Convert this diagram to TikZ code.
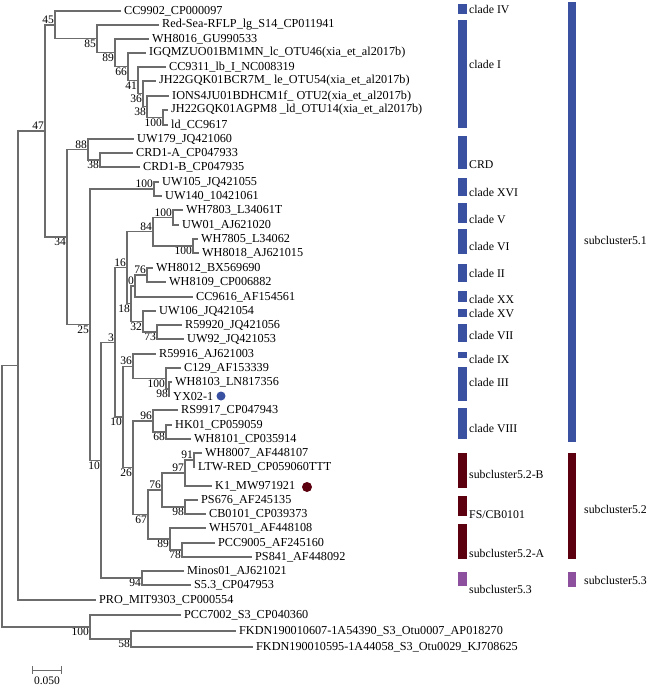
\documentclass[tikz,border=0pt]{standalone}
\usepackage{fontspec}
\setmainfont{Liberation Serif}
\definecolor{cladeblue}{RGB}{58,80,160}
\definecolor{cladered}{RGB}{92,0,16}
\definecolor{cladeviolet}{RGB}{140,80,158}
\tikzset{branch/.style={draw=gray!85!black, line width=1.1pt},
  leaf/.style={anchor=west, inner sep=3pt, font=\fontsize{12.2}{13}\selectfont},
  inode/.style={inner sep=0pt, outer sep=0pt, minimum size=0pt},
  boot/.style={inner sep=1pt, font=\fontsize{11.5}{12}\selectfont},
  cladetext/.style={anchor=west, inner sep=1pt, font=\fontsize{11.8}{13}\selectfont}}

\begin{document}
\begin{tikzpicture}[x=1pt, y=-1pt, label distance=0pt]
\useasboundingbox[fill=white] (0,0) rectangle (650,689);

% leaves
\node[leaf] (t01) at (121,11) {CC9902\_CP000097};
\node[leaf] (t02) at (159,25) {Red-Sea-RFLP\_lg\_S14\_CP011941};
\node[leaf] (t03) at (149,39) {WH8016\_GU990533};
\node[leaf] (t04) at (146,53) {IGQMZUO01BM1MN\_lc\_OTU46(xia\_et\_al2017b)};
\node[leaf] (t05) at (166,67) {CC9311\_lb\_I\_NC008319};
\node[leaf] (t06) at (156,81) {JH22GQK01BCR7M\_ le\_OTU54(xia\_et\_al2017b)};
\node[leaf] (t07) at (169,96) {IONS4JU01BDHCM1f\_ OTU2(xia\_et\_al2017b)};
\node[leaf] (t08) at (168,110) {JH22GQK01AGPM8 \_ld\_OTU14(xia\_et\_al2017b)};
\node[leaf] (t09) at (168,125) {ld\_CC9617};
\node[leaf] (t10) at (134,139) {UW179\_JQ421060};
\node[leaf] (t11) at (133,153) {CRD1-A\_CP047933};
\node[leaf] (t12) at (140,167) {CRD1-B\_CP047935};
\node[leaf] (t13) at (159,182) {UW105\_JQ421055};
\node[leaf] (t14) at (162,196) {UW140\_10421061};
\node[leaf] (t15) at (183,210) {WH7803\_L34061T};
\node[leaf] (t16) at (179,225) {UW01\_AJ621020};
\node[leaf] (t17) at (198,239) {WH7805\_L34062};
\node[leaf] (t18) at (199,253) {WH8018\_AJ621015};
\node[leaf] (t19) at (153,268) {WH8012\_BX569690};
\node[leaf] (t20) at (166,282) {WH8109\_CP006882};
\node[leaf] (t21) at (193,297) {CC9616\_AF154561};
\node[leaf] (t22) at (156,311) {UW106\_JQ421054};
\node[leaf] (t23) at (182,325) {R59920\_JQ421056};
\node[leaf] (t24) at (184,339) {UW92\_JQ421053};
\node[leaf] (t25) at (156,354) {R59916\_AJ621003};
\node[leaf] (t26) at (181,368) {C129\_AF153339};
\node[leaf] (t27) at (172,382) {WH8103\_LN817356};
\node[leaf] (t28) at (170,396) {YX02-1};
\node[leaf] (t29) at (178,410) {RS9917\_CP047943};
\node[leaf] (t30) at (172,425) {HK01\_CP059059};
\node[leaf] (t31) at (191,439) {WH8101\_CP035914};
\node[leaf] (t32) at (202,453) {WH8007\_AF448107};
\node[leaf] (t33) at (195,467) {LTW-RED\_CP059060TTT};
\node[leaf] (t34) at (212,486) {K1\_MW971921};
\node[leaf] (t35) at (198,500) {PS676\_AF245135};
\node[leaf] (t36) at (206,514) {CB0101\_CP039373};
\node[leaf] (t37) at (206,528) {WH5701\_AF448108};
\node[leaf] (t38) at (215,543) {PCC9005\_AF245160};
\node[leaf] (t39) at (252,557) {PS841\_AF448092};
\node[leaf] (t40) at (184,571) {Minos01\_AJ621021};
\node[leaf] (t41) at (191,585) {S5.3\_CP047953};
\node[leaf] (t42) at (96,600) {PRO\_MIT9303\_CP000554};
\node[leaf] (t43) at (181,615) {PCC7002\_S3\_CP040360};
\node[leaf] (t44) at (236,631) {FKDN190010607-1A54390\_S3\_Otu0007\_AP018270};
\node[leaf] (t45) at (253,647) {FKDN190010595-1A44058\_S3\_Otu0029\_KJ708625};

\node[circle, fill=cladeblue, inner sep=0pt, minimum size=9pt] (dotYX) at (221,396) {};
\node[circle, fill=cladered, inner sep=0pt, minimum size=10pt] (dotK) at (307,487) {};

% inner nodes
\node[inode] (root) at (2,496) {};
\node[inode] (x1) at (18,365.5) {};
\node[inode, label={[boot]above left:47}] (n47) at (45,131) {};
\node[inode, label={[boot]above left:45}] (n45) at (55,25) {};
\node[inode, label={[boot]below left:85}] (n85) at (97,38.9) {};
\node[inode, label={[boot]below left:89}] (n89) at (115,52.9) {};
\node[inode, label={[boot]below left:66}] (n66) at (128,66.7) {};
\node[inode, label={[boot]below left:41}] (n41) at (138,80.4) {};
\node[inode, label={[boot]below left:36}] (n36a) at (143,93.9) {};
\node[inode, label={[boot]below left:38}] (n38a) at (147,106.8) {};
\node[inode, label={[boot]below left:100}] (n100a) at (163,117.5) {};
\node[inode, label={[boot]below left:34}] (n34) at (67,237) {};
\node[inode, label={[boot]above left:88}] (n88) at (88,149.5) {};
\node[inode, label={[boot]below left:38}] (n38b) at (100,160) {};
\node[inode, label={[boot]below left:25}] (n25) at (90,324.6) {};
\node[inode, label={[boot]above left:100}] (n100b) at (154,189) {};
\node[inode, label={[boot]below left:10}] (n10a) at (101,460.2) {};
\node[inode, label={[boot]above left:3}] (n3) at (115,342.4) {};
\node[inode, label={[boot]above left:16}] (n16) at (127,267.8) {};
\node[inode, label={[boot]above left:84}] (n84) at (153,231.8) {};
\node[inode, label={[boot]above left:100}] (n100c) at (173,217.5) {};
\node[inode, label={[boot]below left:100}] (n100d) at (193,246) {};
\node[inode, label={[boot]below left:18}] (n18) at (131,303.8) {};
\node[inode, label={[boot]above left:0}] (n0) at (135,286) {};
\node[inode, label={[boot]above left:76}] (n76a) at (147,275) {};
\node[inode, label={[boot]below left:32}] (n32) at (143,321.5) {};
\node[inode, label={[boot]below left:73}] (n73) at (157,332) {};
\node[inode, label={[boot]below left:10}] (n10b) at (123,417) {};
\node[inode, label={[boot]above left:36}] (n36b) at (133,366.3) {};
\node[inode, label={[boot]below left:100}] (n100e) at (166,378.5) {};
\node[inode, label={[boot]below left:98}] (n98a) at (169,389) {};
\node[inode, label={[boot]below left:26}] (n26) at (133,467.8) {};
\node[inode, label={[boot]above left:96}] (n96) at (153,421) {};
\node[inode, label={[boot]below left:68}] (n68) at (166,432) {};
\node[inode, label={[boot]below left:67}] (n67) at (148,514.5) {};
\node[inode, label={[boot]above left:76}] (n76b) at (162,490) {};
\node[inode, label={[boot]above left:97}] (n97) at (185,473) {};
\node[inode, label={[boot]above left:91}] (n91) at (194,460) {};
\node[inode, label={[boot]below left:98}] (n98b) at (185,507) {};
\node[inode, label={[boot]below left:89}] (n89b) at (170,539) {};
\node[inode, label={[boot]below left:78}] (n78) at (182,550) {};
\node[inode, label={[boot]below left:94}] (n94) at (142,578) {};
\node[inode, label={[boot]below left:100}] (o100) at (90,627) {};
\node[inode, label={[boot]below left:58}] (o58) at (131,639) {};

% edges
\draw[branch] (root) |- (x1);
\draw[branch] (root) |- (o100);
\draw[branch] (x1) |- (n47);
\draw[branch] (x1) |- (t42.west);
\draw[branch] (n47) |- (n45);
\draw[branch] (n47) |- (n34);
\draw[branch] (n45) |- (t01.west);
\draw[branch] (n45) |- (n85);
\draw[branch] (n85) |- (t02.west);
\draw[branch] (n85) |- (n89);
\draw[branch] (n89) |- (t03.west);
\draw[branch] (n89) |- (n66);
\draw[branch] (n66) |- (t04.west);
\draw[branch] (n66) |- (n41);
\draw[branch] (n41) |- (t05.west);
\draw[branch] (n41) |- (n36a);
\draw[branch] (n36a) |- (t06.west);
\draw[branch] (n36a) |- (n38a);
\draw[branch] (n38a) |- (t07.west);
\draw[branch] (n38a) |- (n100a);
\draw[branch] (n100a) |- (t08.west);
\draw[branch] (n100a) |- (t09.west);
\draw[branch] (n34) |- (n88);
\draw[branch] (n34) |- (n25);
\draw[branch] (n88) |- (t10.west);
\draw[branch] (n88) |- (n38b);
\draw[branch] (n38b) |- (t11.west);
\draw[branch] (n38b) |- (t12.west);
\draw[branch] (n25) |- (n100b);
\draw[branch] (n25) |- (n10a);
\draw[branch] (n100b) |- (t13.west);
\draw[branch] (n100b) |- (t14.west);
\draw[branch] (n10a) |- (n3);
\draw[branch] (n10a) |- (n94);
\draw[branch] (n3) |- (n16);
\draw[branch] (n3) |- (n10b);
\draw[branch] (n16) |- (n84);
\draw[branch] (n16) |- (n18);
\draw[branch] (n84) |- (n100c);
\draw[branch] (n84) |- (n100d);
\draw[branch] (n100c) |- (t15.west);
\draw[branch] (n100c) |- (t16.west);
\draw[branch] (n100d) |- (t17.west);
\draw[branch] (n100d) |- (t18.west);
\draw[branch] (n18) |- (n0);
\draw[branch] (n18) |- (n32);
\draw[branch] (n0) |- (n76a);
\draw[branch] (n0) |- (t21.west);
\draw[branch] (n76a) |- (t19.west);
\draw[branch] (n76a) |- (t20.west);
\draw[branch] (n32) |- (t22.west);
\draw[branch] (n32) |- (n73);
\draw[branch] (n73) |- (t23.west);
\draw[branch] (n73) |- (t24.west);
\draw[branch] (n10b) |- (n36b);
\draw[branch] (n10b) |- (n26);
\draw[branch] (n36b) |- (t25.west);
\draw[branch] (n36b) |- (n100e);
\draw[branch] (n100e) |- (t26.west);
\draw[branch] (n100e) |- (n98a);
\draw[branch] (n98a) |- (t27.west);
\draw[branch] (n98a) |- (t28.west);
\draw[branch] (n26) |- (n96);
\draw[branch] (n26) |- (n67);
\draw[branch] (n96) |- (t29.west);
\draw[branch] (n96) |- (n68);
\draw[branch] (n68) |- (t30.west);
\draw[branch] (n68) |- (t31.west);
\draw[branch] (n67) |- (n76b);
\draw[branch] (n67) |- (n89b);
\draw[branch] (n76b) |- (n97);
\draw[branch] (n76b) |- (n98b);
\draw[branch] (n97) |- (n91);
\draw[branch] (n97) |- (t34.west);
\draw[branch] (n91) |- (t32.west);
\draw[branch] (n91) |- (t33.west);
\draw[branch] (n98b) |- (t35.west);
\draw[branch] (n98b) |- (t36.west);
\draw[branch] (n89b) |- (t37.west);
\draw[branch] (n89b) |- (n78);
\draw[branch] (n78) |- (t38.west);
\draw[branch] (n78) |- (t39.west);
\draw[branch] (n94) |- (t40.west);
\draw[branch] (n94) |- (t41.west);
\draw[branch] (o100) |- (t43.west);
\draw[branch] (o100) |- (o58);
\draw[branch] (o58) |- (t44.west);
\draw[branch] (o58) |- (t45.west);

% scale bar
\coordinate (sbl) at (32,670);
\coordinate (sbr) at (62,670);
\draw[branch, line width=0.9pt, |-|] (sbl) -- (sbr);
\node[boot] (sbtext) at (47,681) {0.050};

% clade bars
\fill[cladeblue] (458,4) rectangle (467,14);
\fill[cladeblue] (458,20) rectangle (467,128);
\fill[cladeblue] (458,136) rectangle (467,169);
\fill[cladeblue] (458,178) rectangle (467,196);
\fill[cladeblue] (458,203) rectangle (467,223);
\fill[cladeblue] (458,229) rectangle (467,254);
\fill[cladeblue] (458,264) rectangle (467,282);
\fill[cladeblue] (458,291) rectangle (467,302);
\fill[cladeblue] (458,309) rectangle (467,317);
\fill[cladeblue] (458,324) rectangle (467,342);
\fill[cladeblue] (458,352) rectangle (467,358);
\fill[cladeblue] (458,367) rectangle (467,401);
\fill[cladeblue] (458,408) rectangle (467,439);
\fill[cladered] (458,453) rectangle (467,488);
\fill[cladered] (458,496) rectangle (467,516);
\fill[cladered] (458,524) rectangle (467,559);
\fill[cladeviolet] (458,572) rectangle (467,586);
\fill[cladeblue] (568,2) rectangle (576,442);
\fill[cladered] (568,453) rectangle (576,559);
\fill[cladeviolet] (568,572) rectangle (576,587);

\node[cladetext] (cIV) at (468,9) {clade IV};
\node[cladetext] (cI) at (468,64) {clade I};
\node[cladetext] (cCRD) at (468,165) {CRD};
\node[cladetext] (cXVI) at (468,192) {clade XVI};
\node[cladetext] (cV) at (468,219) {clade V};
\node[cladetext] (cVI) at (468,246) {clade VI};
\node[cladetext] (cII) at (468,273) {clade II};
\node[cladetext] (cXX) at (468,299) {clade XX};
\node[cladetext] (cXV) at (468,313) {clade XV};
\node[cladetext] (cVII) at (468,335) {clade VII};
\node[cladetext] (cIX) at (468,359) {clade IX};
\node[cladetext] (cIII) at (468,382) {clade III};
\node[cladetext] (cVIII) at (468,428) {clade VIII};
\node[cladetext] (c52B) at (468,474) {subcluster5.2-B};
\node[cladetext] (cFS) at (468,515) {FS/CB0101};
\node[cladetext] (c52A) at (468,553) {subcluster5.2-A};
\node[cladetext] (c53) at (468,589) {subcluster5.3};
\node[cladetext] (s51) at (583,240) {subcluster5.1};
\node[cladetext] (s52) at (583,509) {subcluster5.2};
\node[cladetext] (s53) at (583,580) {subcluster5.3};
\end{tikzpicture}
\end{document}
